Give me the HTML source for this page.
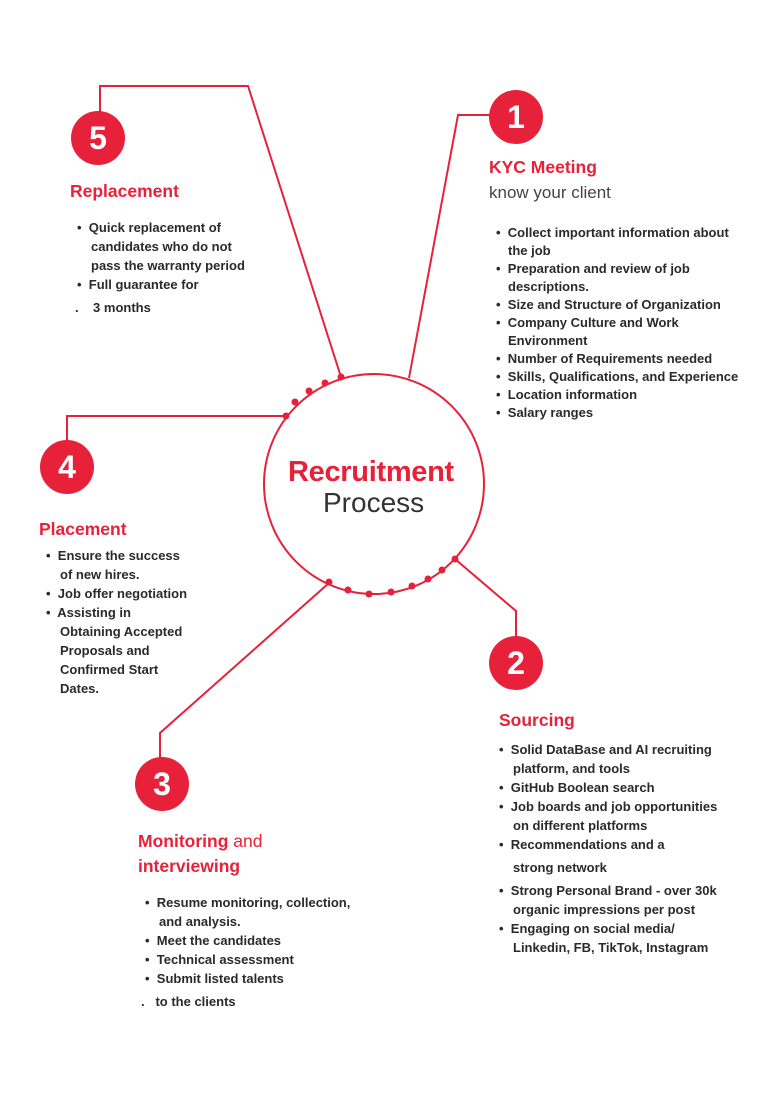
<!DOCTYPE html>
<html><head><meta charset="utf-8"><style>
body{margin:0;width:768px;height:1094px;background:#fff;position:relative;overflow:hidden;font-family:"Liberation Sans",sans-serif}
.t{position:absolute;font-size:13px;font-weight:bold;color:#2a2a2a;white-space:nowrap;line-height:18px}
.h{position:absolute;font-size:17.5px;font-weight:bold;color:#e8213a;white-space:nowrap}
.s{position:absolute;font-size:17px;color:#444;white-space:nowrap}
.n{position:absolute;width:54px;height:54px;border-radius:50%;background:#e8213a;color:#fff;font-weight:bold;font-size:32px;text-align:center;line-height:54px}
</style></head><body>
<svg width="768" height="1094" style="position:absolute;left:0;top:0">
<g fill="none" stroke="#e8213a" stroke-width="2">
<circle cx="374" cy="484" r="110"/>
<polyline points="341,377 248,86 100,86 100,113"/>
<polyline points="409,378 458,115 492,115"/>
<polyline points="286,416 67,416 67,442"/>
<polyline points="455,559 516,611 516,637"/>
<polyline points="329,583 160,733 160,758"/>
</g>
<g fill="#e8213a">
<circle cx="341" cy="377" r="3.5"/><circle cx="325" cy="383" r="3.5"/><circle cx="309" cy="391" r="3.5"/><circle cx="295" cy="402" r="3.5"/><circle cx="286" cy="416" r="3.5"/>
<circle cx="329" cy="582" r="3.5"/><circle cx="348" cy="590" r="3.5"/><circle cx="369" cy="594" r="3.5"/><circle cx="391" cy="592" r="3.5"/><circle cx="412" cy="586" r="3.5"/><circle cx="428" cy="579" r="3.5"/><circle cx="442" cy="570" r="3.5"/><circle cx="455" cy="559" r="3.5"/>
</g>
</svg>
<div class="h" style="left:288px;top:456px;font-size:29px;letter-spacing:-0.3px">Recruitment</div>
<div class="s" style="left:323px;top:487px;font-size:28px;color:#333">Process</div>

<div class="n" style="left:71px;top:111px">5</div>
<div class="n" style="left:489px;top:90px">1</div>
<div class="n" style="left:40px;top:440px">4</div>
<div class="n" style="left:489px;top:636px">2</div>
<div class="n" style="left:135px;top:757px">3</div>

<div class="h" style="left:70px;top:181px">Replacement</div>
<div class="t" style="left:77px;top:219px">•&nbsp; Quick replacement of</div>
<div class="t" style="left:91px;top:238px">candidates who do not</div>
<div class="t" style="left:91px;top:257px">pass the warranty period</div>
<div class="t" style="left:77px;top:276px">•&nbsp; Full guarantee for</div>
<div class="t" style="left:75px;top:299px">.&nbsp;&nbsp;&nbsp; 3 months</div>

<div class="h" style="left:489px;top:157px">KYC Meeting</div>
<div class="s" style="left:489px;top:183px">know your client</div>
<div class="t" style="left:496px;top:224px">•&nbsp; Collect important information about</div>
<div class="t" style="left:508px;top:242px">the job</div>
<div class="t" style="left:496px;top:260px">•&nbsp; Preparation and review of job</div>
<div class="t" style="left:508px;top:278px">descriptions.</div>
<div class="t" style="left:496px;top:296px">•&nbsp; Size and Structure of Organization</div>
<div class="t" style="left:496px;top:314px">•&nbsp; Company Culture and Work</div>
<div class="t" style="left:508px;top:332px">Environment</div>
<div class="t" style="left:496px;top:350px">•&nbsp; Number of Requirements needed</div>
<div class="t" style="left:496px;top:368px">•&nbsp; Skills, Qualifications, and Experience</div>
<div class="t" style="left:496px;top:386px">•&nbsp; Location information</div>
<div class="t" style="left:496px;top:404px">•&nbsp; Salary ranges</div>

<div class="h" style="left:39px;top:519px">Placement</div>
<div class="t" style="left:46px;top:547px">•&nbsp; Ensure the success</div>
<div class="t" style="left:60px;top:566px">of new hires.</div>
<div class="t" style="left:46px;top:585px">•&nbsp; Job offer negotiation</div>
<div class="t" style="left:46px;top:604px">•&nbsp; Assisting in</div>
<div class="t" style="left:60px;top:623px">Obtaining Accepted</div>
<div class="t" style="left:60px;top:642px">Proposals and</div>
<div class="t" style="left:60px;top:661px">Confirmed Start</div>
<div class="t" style="left:60px;top:680px">Dates.</div>

<div class="h" style="left:499px;top:710px">Sourcing</div>
<div class="t" style="left:499px;top:741px">•&nbsp; Solid DataBase and AI recruiting</div>
<div class="t" style="left:513px;top:760px">platform, and tools</div>
<div class="t" style="left:499px;top:779px">•&nbsp; GitHub Boolean search</div>
<div class="t" style="left:499px;top:798px">•&nbsp; Job boards and job opportunities</div>
<div class="t" style="left:513px;top:817px">on different platforms</div>
<div class="t" style="left:499px;top:836px">•&nbsp; Recommendations and a</div>
<div class="t" style="left:513px;top:859px">strong network</div>
<div class="t" style="left:499px;top:882px">•&nbsp; Strong Personal Brand - over 30k</div>
<div class="t" style="left:513px;top:901px">organic impressions per post</div>
<div class="t" style="left:499px;top:920px">•&nbsp; Engaging on social media/</div>
<div class="t" style="left:513px;top:939px">Linkedin, FB, TikTok, Instagram</div>

<div class="h" style="left:138px;top:831px">Monitoring <span style="font-weight:normal">and</span></div>
<div class="h" style="left:138px;top:856px">interviewing</div>
<div class="t" style="left:145px;top:894px">•&nbsp; Resume monitoring, collection,</div>
<div class="t" style="left:159px;top:913px">and analysis.</div>
<div class="t" style="left:145px;top:932px">•&nbsp; Meet the candidates</div>
<div class="t" style="left:145px;top:951px">•&nbsp; Technical assessment</div>
<div class="t" style="left:145px;top:970px">•&nbsp; Submit listed talents</div>
<div class="t" style="left:141px;top:993px">.&nbsp;&nbsp; to the clients</div>
</body></html>
